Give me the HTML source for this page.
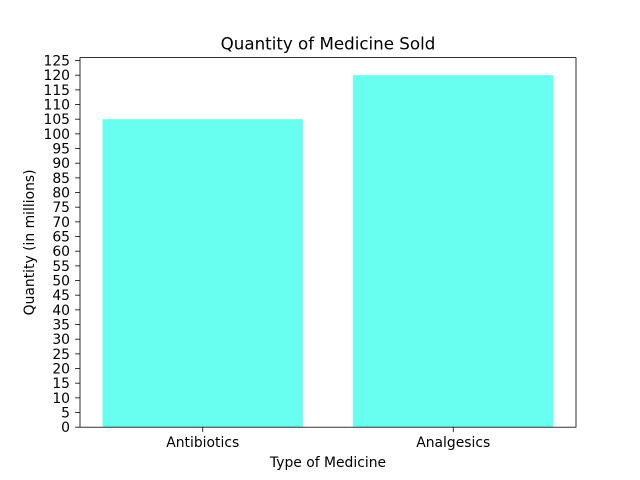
<!DOCTYPE html>
<html><head><meta charset="utf-8"><style>body{margin:0;background:#fff}svg{display:block;font-family:"DejaVu Sans","Liberation Sans",sans-serif}</style></head>
<body>
<svg id="c" width="640" height="480"></svg>
<script>
const categories = ["Antibiotics", "Analgesics"];
const values = [105, 120];
const yTicks = [0,5,10,15,20,25,30,35,40,45,50,55,60,65,70,75,80,85,90,95,100,105,110,115,120,125];
const L=80,R=576,T=57.6,B=427.2;
const yMax=Math.max(...values)*1.05;
const xMin=-0.49,xMax=categories.length-1+0.49;
const sx=v=>L+(v-xMin)/(xMax-xMin)*(R-L);
const sy=v=>B-v/yMax*(B-T);
const svg=document.getElementById('c');
const NS='http://www.w3.org/2000/svg';
function mk(t,a,txt){const e=document.createElementNS(NS,t);for(const k in a)e.setAttribute(k,a[k]);if(txt!==undefined)e.textContent=txt;svg.appendChild(e);return e;}
values.forEach((v,i)=>{
  const r=mk('rect',{x:sx(i-0.4),y:sy(v),width:sx(i+0.4)-sx(i-0.4),height:B-sy(v),fill:'#69fff0'});
  
  
  const t=mk('line',{x1:sx(i),x2:sx(i),y1:B,y2:B+4.9,stroke:'#000','stroke-width':0.8});
  
  
  const l=mk('text',{x:sx(i),y:B+20,'font-size':13.9,'text-anchor':'middle'},categories[i]);
  
  
});
yTicks.forEach(v=>{
  const t=mk('line',{x1:L-4.9,x2:L,y1:sy(v),y2:sy(v),stroke:'#000','stroke-width':0.8});
  
  
  const l=mk('text',{x:L-10,y:sy(v)+5,'font-size':13.9,'text-anchor':'end'},String(v));
  
  
});
const f=mk('rect',{x:L,y:T,width:R-L,height:B-T,fill:'none',stroke:'#000','stroke-width':0.8});


const ti=mk('text',{x:(L+R)/2,y:T-8,'font-size':16.7,'text-anchor':'middle'},'Quantity of Medicine Sold');


const xt=mk('text',{x:(L+R)/2,y:467,'font-size':13.9,'text-anchor':'middle'},'Type of Medicine');


const yt=mk('text',{x:0,y:0,'font-size':13.9,'text-anchor':'middle',transform:`translate(34,${(T+B)/2}) rotate(-90)`},'Quantity (in millions)');


</script>
</body></html>
